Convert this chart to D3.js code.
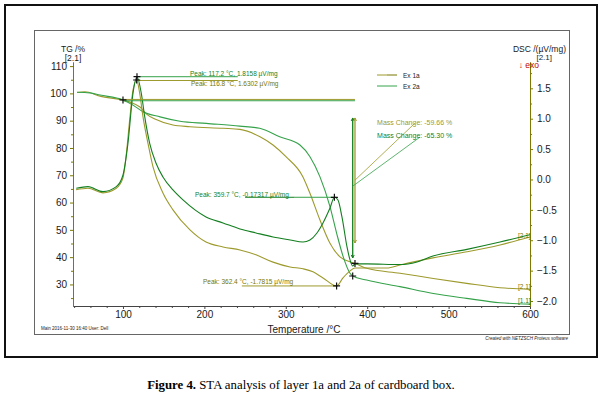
<!DOCTYPE html>
<html>
<head>
<meta charset="utf-8">
<script src="https://d3js.org/d3.v7.min.js"></script>
<style>
  body { margin: 0; background: #fff; }
  text { font-family: "Liberation Sans", Arial, sans-serif; }
</style>
</head>
<body>
<script>
// Sample names and their colours
const sampleNames = ["Ex 1a", "Ex 2a"];

// TG curves [temperature °C, mass %]
const tgEx1a = [
  [43.5, 100.3], [53.3, 100.6], [71.7, 99.0], [100, 97.5], [108.6, 96.8],
  [120.9, 95.0], [128.6, 92.5], [140, 90.5], [161.4, 88.4], [182.3, 87.8],
  [222.9, 87.2], [243.7, 86.8], [268.3, 84.1], [284.3, 81.1], [300.2, 76.8],
  [321.1, 69.4], [329.7, 63.4], [342.0, 53.6], [354.3, 45.1], [366.6, 40.1],
  [378.9, 38.3], [385.0, 37.7], [399.4, 35.9], [440.3, 34.1], [481.2, 32.2],
  [522.2, 30.4], [563.1, 28.8], [600, 28.2]
];
const tgEx2a = [
  [43.5, 100.4], [59.5, 100.2], [71.7, 99.4], [100, 97.6], [112.3, 95.7],
  [124.6, 93.3], [145.5, 91.4], [170.0, 89.8], [202.3, 89.0], [243.4, 88.0],
  [267.9, 87.2], [292.5, 84.1], [317.4, 81.1], [329.7, 76.8], [342.0, 69.4],
  [354.3, 58.5], [362.5, 48.7], [370.6, 40.1], [378.9, 34.1], [382.2, 33.1],
  [399.4, 31.6], [440.3, 29.2], [481.2, 26.7], [522.2, 24.9], [563.1, 23.3],
  [600, 22.8]
];

// DSC curves [temperature °C, µV/mg]
const dscEx1a = [
  [42.3, -0.17], [57.0, -0.145], [75.4, -0.22], [91.8, -0.145], [100, 0.025],
  [103.7, 0.37], [108.6, 1.03], [112.3, 1.47], [116.8, 1.637], [120.5, 1.42],
  [124.6, 1.03], [130.7, 0.595], [136.9, 0.206], [149.1, -0.222], [161.4, -0.50],
  [182.3, -0.83], [202.0, -1.03], [222.9, -1.11], [243.7, -1.16], [263.4, -1.24],
  [284.3, -1.36], [305.3, -1.44], [321.1, -1.47], [333.4, -1.52], [345.7, -1.62],
  [362.4, -1.752], [370.3, -1.62], [378.9, -1.505], [385.0, -1.456], [424.3, -1.456],
  [440.3, -1.406], [480.8, -1.29], [522.6, -1.19], [563.1, -1.077], [600, -0.946]
];
const dscEx2a = [
  [42.6, -0.145], [57.0, -0.118], [75.4, -0.20], [91.8, -0.118], [100, 0.074],
  [106.1, 0.595], [112.3, 1.42], [117.2, 1.691], [122.5, 1.418], [126.7, 1.033],
  [132.8, 0.595], [140.5, 0.271], [149.1, 0.041], [161.4, -0.173], [173.7, -0.337],
  [202.0, -0.617], [222.9, -0.715], [243.7, -0.814], [263.4, -0.88], [284.3, -0.946],
  [305.3, -0.995], [321.1, -1.028], [329.7, -0.995], [338.3, -0.88], [345.7, -0.715],
  [354.3, -0.469], [359.7, -0.293], [364.1, -0.337], [369.0, -0.617], [375.2, -1.11],
  [378.9, -1.324], [382.2, -1.423], [385.0, -1.389], [399.8, -1.389], [440.3, -1.40],
  [461.2, -1.357], [480.8, -1.26], [522.6, -1.15], [563.1, -1.03], [600, -0.91]
];

// Tick labels
const tempTicks = [100, 200, 300, 400, 500, 600];
const tgTicks = [30, 40, 50, 60, 70, 80, 90, 100, 110];
const dscTicks = [-2.0, -1.5, -1.0, -0.5, 0.0, 0.5, 1.0, 1.5];

// Evaluated points
const peakTemps = [117.2, 116.8, 359.7, 362.4];
const peakTexts = [
  "Peak: 117.2 °C, 1.8158 µV/mg",
  "Peak: 116.8 °C, 1.6302 µV/mg",
  "Peak: 359.7 °C, -0.17317 µV/mg",
  "Peak: 362.4 °C, -1.7815 µV/mg"
];
const massChangeTexts = ["Mass Change: -59.66 %", "Mass Change: -65.30 %"];

const olive = "#9d9a2c";
const oliveDark = "#767600";
const green = "#35a24a";
const greenDark = "#137f1f";

const svg = d3.select("body").append("svg")
  .attr("width", 603)
  .attr("height", 398);

// Frames
svg.append("rect")
  .attr("x", 5).attr("y", 5).attr("width", 592).attr("height", 352)
  .attr("fill", "none").attr("stroke", "#111").attr("stroke-width", 2);
svg.append("rect")
  .attr("x", 34.5).attr("y", 30.5).attr("width", 535).attr("height", 304)
  .attr("fill", "none").attr("stroke", "#666").attr("stroke-width", 1);

// Scales
const xScale = d3.scaleLinear().domain([38.6, 600]).range([73, 530]);
const yTG = d3.scaleLinear().domain([22.1, 111.5]).range([306, 62]);
const yDSC = d3.scaleLinear().domain([-2.082, 1.933]).range([306, 62]);

// Axes
function styleAxis(g, color) {
  g.select(".domain").attr("stroke", color);
  g.selectAll(".tick line").attr("stroke", color);
  g.selectAll(".tick text")
    .attr("fill", "#1a1a1a")
    .style("font-family", "Liberation Sans, Arial, sans-serif")
    .style("font-size", "10px");
}

const xMinor = d3.range(40, 601, 20).filter(d => d % 100 !== 0);
svg.append("g")
  .attr("transform", "translate(0,306)")
  .call(d3.axisBottom(xScale).tickValues(xMinor).tickSize(2).tickFormat("").tickSizeOuter(0))
  .call(g => styleAxis(g, "#444"));
svg.append("g")
  .attr("transform", "translate(0,306)")
  .call(d3.axisBottom(xScale).tickValues(tempTicks).tickSize(3).tickSizeOuter(0).tickPadding(2))
  .call(g => styleAxis(g, "#444"));

const tgMinor = d3.range(25, 111, 5).filter(d => d % 10 !== 0);
svg.append("g")
  .attr("transform", "translate(73,0)")
  .call(d3.axisLeft(yTG).tickValues(tgMinor).tickSize(2).tickFormat("").tickSizeOuter(0))
  .call(g => styleAxis(g, "#7c7a00"));
svg.append("g")
  .attr("transform", "translate(73,0)")
  .call(d3.axisLeft(yTG).tickValues(tgTicks).tickSize(3).tickSizeOuter(0).tickPadding(3))
  .call(g => styleAxis(g, "#7c7a00"));

const dscMinor = d3.range(-1.75, 1.8, 0.5);
svg.append("g")
  .attr("transform", "translate(530,0)")
  .call(d3.axisRight(yDSC).tickValues(dscMinor).tickSize(2).tickFormat("").tickSizeOuter(0))
  .call(g => styleAxis(g, "#7c7a00"));
svg.append("g")
  .attr("transform", "translate(530,0)")
  .call(d3.axisRight(yDSC).tickValues(dscTicks).tickSize(3).tickSizeOuter(0).tickPadding(4)
    .tickFormat(d3.format(".1f")))
  .call(g => styleAxis(g, "#7c7a00"));

// Axis titles
svg.append("text").attr("x", 73).attr("y", 52).attr("text-anchor", "middle")
  .attr("font-size", "8.5px").attr("fill", "#1a1a1a").text("TG /%");
svg.append("text").attr("x", 73).attr("y", 61).attr("text-anchor", "middle")
  .attr("font-size", "8.5px").attr("fill", "#1a1a1a").text("[2.1]");
svg.append("text").attr("x", 566).attr("y", 52).attr("text-anchor", "end")
  .attr("font-size", "8.5px").attr("fill", "#1a1a1a").text("DSC /(µV/mg)");
svg.append("text").attr("x", 552).attr("y", 59.5).attr("text-anchor", "end")
  .attr("font-size", "8px").attr("fill", "#1a1a1a").text("[2.1]");
svg.append("text").attr("x", 539).attr("y", 67.5).attr("text-anchor", "end")
  .attr("font-size", "8.5px").attr("fill", "#c00000").text("↓ exo");
svg.append("text").attr("x", 304).attr("y", 333).attr("text-anchor", "middle")
  .attr("font-size", "10px").attr("fill", "#1a1a1a").text("Temperature /°C");

// Curves
const tgLine = d3.line().x(d => xScale(d[0])).y(d => yTG(d[1])).curve(d3.curveMonotoneX);
const dscLine = d3.line().x(d => xScale(d[0])).y(d => yDSC(d[1])).curve(d3.curveMonotoneX);

const curves = [
  {data: tgEx1a, line: tgLine, color: olive},
  {data: tgEx2a, line: tgLine, color: green},
  {data: dscEx1a, line: dscLine, color: olive},
  {data: dscEx2a, line: dscLine, color: greenDark}
];
svg.selectAll("path.curve")
  .data(curves)
  .enter()
  .append("path")
  .attr("class", "curve")
  .attr("d", d => d.line(d.data))
  .attr("fill", "none")
  .attr("stroke", d => d.color)
  .attr("stroke-width", 1.1);

// Annotation helpers
function hLine(x1, x2, y, color) {
  svg.append("line").attr("x1", x1).attr("x2", x2).attr("y1", y).attr("y2", y)
    .attr("stroke", color).attr("stroke-width", 1);
}
function cross(cx, cy) {
  svg.append("path")
    .attr("d", `M${cx - 3.5},${cy}H${cx + 3.5}M${cx},${cy - 3.5}V${cy + 3.5}`)
    .attr("stroke", "#111").attr("stroke-width", 1.2);
}
function label(x, y, txt, color, size) {
  svg.append("text").attr("x", x).attr("y", y)
    .attr("font-size", size || "6.5px").attr("fill", color).text(txt);
}

// Onset lines for the mass change
hLine(xScale(100), xScale(385), yTG(97.6) - 0.5, olive);
hLine(xScale(100), xScale(385), yTG(97.6) + 0.8, green);
cross(xScale(100), yTG(97.6));

// Peaks near 117 °C
const gPeakY = yDSC(1.691), oPeakY = yDSC(1.637);
hLine(xScale(117.2), xScale(241), gPeakY, green);
hLine(xScale(116.8), xScale(241), oPeakY + 0.5, olive);
cross(xScale(117.2), gPeakY);
cross(xScale(116.8), oPeakY);
label(xScale(182.3), gPeakY - 1, peakTexts[0], greenDark);
label(xScale(183.5), oPeakY + 6.5, peakTexts[1], oliveDark);

// Peak 359.7 °C (Ex 2a)
const p3Y = yDSC(-0.293);
hLine(xScale(250), xScale(311), p3Y, greenDark);
hLine(xScale(311), xScale(362), p3Y, green);
cross(xScale(peakTemps[2]), p3Y);
label(xScale(188.5), p3Y, peakTexts[2], greenDark);

// Peak 362.4 °C (Ex 1a)
const p4Y = yDSC(-1.752);
hLine(xScale(246), xScale(364), p4Y, olive);
cross(xScale(peakTemps[3]), p4Y);
label(xScale(198.3), p4Y - 2, peakTexts[3], oliveDark);

// End of mass-change step
cross(xScale(385), yTG(37.7));
cross(xScale(382.2), yTG(33.1));

// Mass change arrows
function vArrow(t, top, bottom, color) {
  const xx = xScale(t);
  svg.append("line").attr("x1", xx).attr("x2", xx)
    .attr("y1", yTG(top)).attr("y2", yTG(bottom))
    .attr("stroke", color).attr("stroke-width", 1.3);
  svg.append("path")
    .attr("d", `M${xx - 1.5},${yTG(top) + 3}L${xx},${yTG(top)}L${xx + 1.5},${yTG(top) + 3}`)
    .attr("fill", "none").attr("stroke", color).attr("stroke-width", 1);
  svg.append("path")
    .attr("d", `M${xx - 1.5},${yTG(bottom) - 3}L${xx},${yTG(bottom)}L${xx + 1.5},${yTG(bottom) - 3}`)
    .attr("fill", "none").attr("stroke", color).attr("stroke-width", 1);
}
vArrow(382.2, 91.0, 39.7, greenDark);
vArrow(385.0, 91.0, 45.2, olive);

svg.append("line")
  .attr("x1", xScale(385)).attr("y1", yTG(68.2))
  .attr("x2", xScale(458.7)).attr("y2", yTG(89.1))
  .attr("stroke", olive).attr("stroke-width", 0.8);
svg.append("line")
  .attr("x1", xScale(382.2)).attr("y1", yTG(66.0))
  .attr("x2", xScale(464.9)).attr("y2", yTG(84.0))
  .attr("stroke", green).attr("stroke-width", 0.8);
label(xScale(412.2), yTG(89.5) + 2.5, massChangeTexts[0], olive, "7px");
label(xScale(412.2), yTG(84.4) + 2.5, massChangeTexts[1], greenDark, "7px");

// Curve end labels
label(518, yDSC(-0.93) + 2, "[2.1]", oliveDark, "6.5px");
label(518, yTG(28.2), "[2.1]", oliveDark, "6.5px");
label(518, yTG(22.8) - 1, "[1.1]", greenDark, "6.5px");

// Legend
const legend = svg.append("g").attr("transform", "translate(377,75)");
sampleNames.forEach((name, i) => {
  const c1 = i === 0 ? olive : green;
  const c2 = i === 0 ? oliveDark : greenDark;
  legend.append("line").attr("x1", 0).attr("x2", 10).attr("y1", i * 11).attr("y2", i * 11)
    .attr("stroke", c1).attr("stroke-width", 1);
  legend.append("line").attr("x1", 10).attr("x2", 20).attr("y1", i * 11).attr("y2", i * 11)
    .attr("stroke", i === 0 ? c2 : c1).attr("stroke-width", 1);
  legend.append("text").attr("x", 26).attr("y", i * 11 + 2.5)
    .attr("font-size", "6.5px").attr("fill", "#222").text(name);
});

// Footer notes
label(41, 330, "Main    2016-11-30 16:40     User: Dell", "#222", "4.5px");
svg.append("text").attr("x", 568).attr("y", 340).attr("text-anchor", "end")
  .attr("font-size", "4.5px").attr("font-style", "italic").attr("fill", "#222")
  .text("Created with NETZSCH Proteus software");

// Caption
const cap = svg.append("text").attr("x", 301).attr("y", 389).attr("text-anchor", "middle")
  .style("font-family", "Liberation Serif, Times New Roman, serif")
  .attr("font-size", "12.8px").attr("fill", "#000");
cap.append("tspan").attr("font-weight", "bold").text("Figure 4.");
cap.append("tspan").text(" STA analysis of layer 1a and 2a of cardboard box.");
</script>
</body>
</html>
